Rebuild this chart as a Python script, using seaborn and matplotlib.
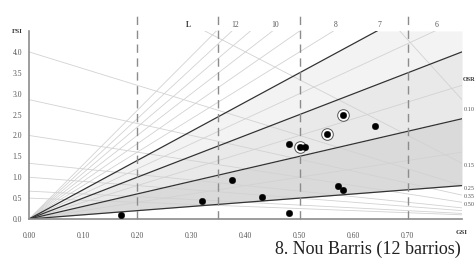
import matplotlib
matplotlib.use('Agg')
import matplotlib.pyplot as plt
import numpy as np
import pandas as pd
import seaborn as sns

# Spacematrix data (Nou Barris)
gsi = [0.17, 0.32, 0.375, 0.43, 0.48, 0.48, 0.50, 0.51, 0.55, 0.57, 0.58, 0.58, 0.64]
fsi = [0.10, 0.43, 0.93, 0.53, 0.14, 1.80, 1.73, 1.72, 2.03, 0.79, 0.69, 2.49, 2.23]
circled = [False, False, False, False, False, False, True, False, True, False, False, True, False]

# reference lines
l_bold = [1, 3, 5, 7]
l_thin = [2, 4, 6, 8, 9, 10, 11, 12, 13]
l_labels = ['12', '10', '8', '7', '6']
osr_lines = [0.07, 0.15, 0.25, 0.35, 0.5, 0.75, 1.0, 1.5, 2.0]
osr_labels = ['0.10', '0.15', '0.25', '0.35', '0.50']
osr_label_y = [2.61, 1.27, 0.74, 0.53, 0.34]
gsi_marks = [0.20, 0.35, 0.50, 0.70]
band_colors = ['#dadada', '#e9e9e9', '#f3f3f3']

df = pd.DataFrame({'GSI': gsi, 'FSI': fsi, 'circled': circled})

sns.set_style('white')
plt.rcParams['font.family'] = ['Liberation Serif', 'DejaVu Serif']

fig = plt.figure(figsize=(4.77, 2.6), dpi=100)
ax = fig.add_axes([29 / 477, 41 / 260, 433 / 477, 188 / 260])
ax.set_xlim(0, 0.8)
ax.set_ylim(0, 4.5)

x = np.linspace(0, 0.8, 200)

# shaded bands between bold L lines
for lo, hi, c in zip(l_bold[:-1], l_bold[1:], band_colors):
    ax.fill_between(x, lo * x, np.minimum(hi * x, 4.5), color=c, lw=0, zorder=0)

# thin L lines
for L in l_thin:
    ax.plot(x, L * x, color='#d2d2d2', lw=0.6, zorder=1)

# OSR lines
for o in osr_lines:
    ax.plot(x, (1 - x) / o, color='#d2d2d2', lw=0.6, zorder=1)

# bold L lines
for L in l_bold:
    ax.plot(x, L * x, color='#333333', lw=0.9, zorder=2)

# dashed GSI marks
ax.vlines(gsi_marks, 0, 4.93, colors='#8c8c8c', linestyles=(0, (6, 4)), lw=1.0,
          clip_on=False, zorder=2)

# points
sns.scatterplot(data=df[df['circled']], x='GSI', y='FSI', s=70, color='white',
                edgecolor='#555555', linewidth=0.7, ax=ax, zorder=3, legend=False)
sns.scatterplot(data=df, x='GSI', y='FSI', s=22, color='black', edgecolor='black',
                linewidth=0.3, ax=ax, zorder=4, legend=False)

# L labels at the top
ax.text(0.294, 4.65, 'L', fontsize=5.5, fontweight='bold', color='#333333',
        ha='center', va='center', clip_on=False)
for lab in l_labels:
    ax.text(4.48 / float(lab) + 0.007, 4.65, lab, fontsize=5.5, color='#555555',
            ha='center', va='center', clip_on=False)

# OSR labels at the right
ax.text(0.802, 3.35, 'OSR', fontsize=4.5, fontweight='bold', color='#333333',
        ha='left', va='center', clip_on=False)
for lab, yy in zip(osr_labels, osr_label_y):
    ax.text(0.804, yy, lab, fontsize=4.5, color='#555555', ha='left', va='center',
            clip_on=False)

# axes
ax.set_xticks([0, 0.1, 0.2, 0.3, 0.4, 0.5, 0.6, 0.7])
ax.set_xticklabels(['0.00', '0.10', '0.20', '0.30', '0.40', '0.50', '0.60', '0.70'])
ax.set_yticks(np.arange(0, 4.01, 0.5))
ax.set_yticklabels(['%.1f' % v for v in np.arange(0, 4.01, 0.5)])
ax.tick_params(axis='both', labelsize=5.5, labelcolor='#555555', colors='#888888',
               length=2, width=0.6, direction='out', pad=3)
ax.tick_params(axis='x', pad=7)
ax.set_xlabel('')
ax.set_ylabel('')
for s in ['top', 'right']:
    ax.spines[s].set_visible(False)
for s in ['left', 'bottom']:
    ax.spines[s].set_color('#8c8c8c')
    ax.spines[s].set_linewidth(1.2)

ax.text(-0.022, 4.48, 'FSI', fontsize=5, fontweight='bold', color='#333333',
        ha='center', va='center', clip_on=False)
ax.text(0.8, -0.33, 'GSI', fontsize=5, fontweight='bold', color='#333333',
        ha='center', va='center', clip_on=False)

fig.text(0.772, 0.04, '8. Nou Barris (12 barrios)', fontsize=13, color='#222222',
         ha='center', va='center')

fig.savefig('out.png', dpi=100)
